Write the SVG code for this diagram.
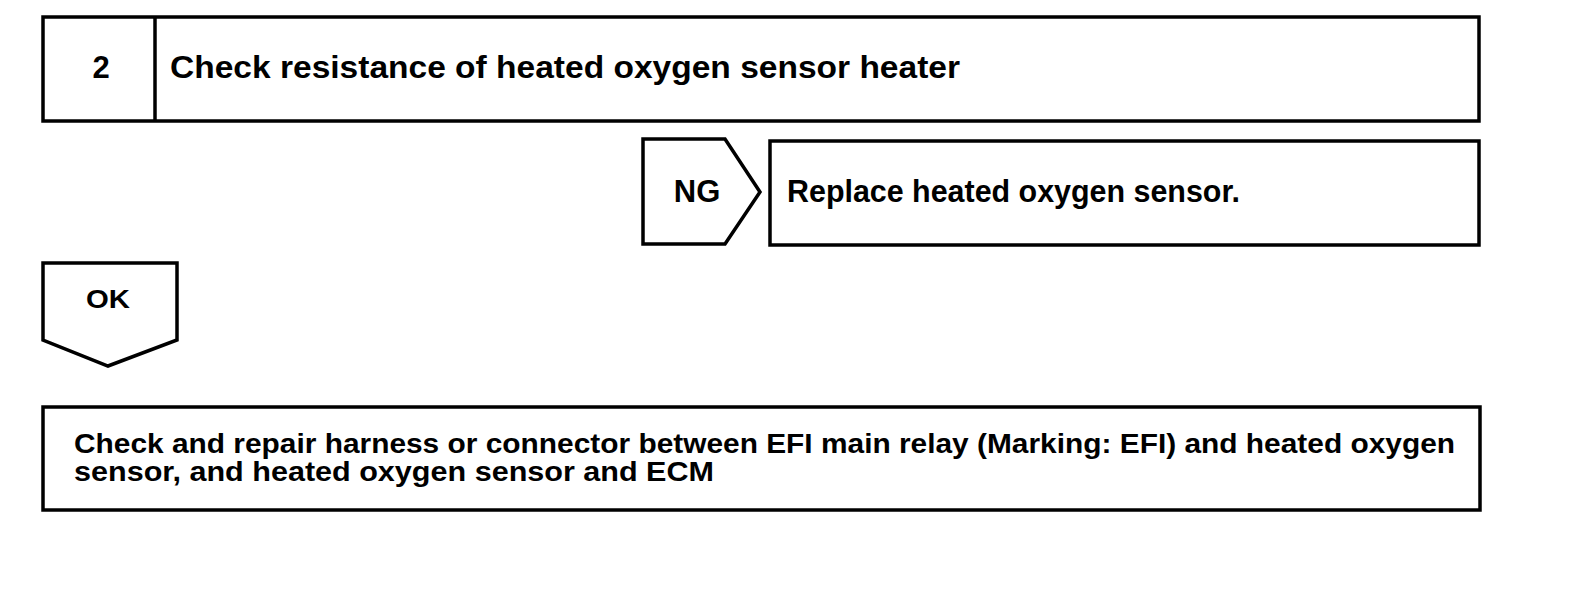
<svg xmlns="http://www.w3.org/2000/svg" width="1584" height="592" viewBox="0 0 1584 592">
<style>
.s{fill:#fff;stroke:#000;stroke-width:3.5;stroke-linejoin:miter}
.t{font-family:"Liberation Sans",Arial,sans-serif;font-weight:bold;fill:#000}
</style>
<rect width="1584" height="592" fill="#fff"/>
<g id="step2">
<rect class="s" x="43" y="17" width="1436" height="104"/>
<line class="s" x1="155" y1="17" x2="155" y2="121"/>
<text class="t" x="101" y="78" font-size="31" text-anchor="middle">2</text>
<text class="t" x="170" y="78" font-size="31" textLength="790" lengthAdjust="spacingAndGlyphs">Check resistance of heated oxygen sensor heater</text>
</g>
<g id="ng">
<polygon class="s" points="643,139 725,139 760,192 725,244 643,244"/>
<text class="t" x="697" y="202" font-size="31" text-anchor="middle">NG</text>
</g>
<g id="replace">
<rect class="s" x="770" y="141" width="709" height="104"/>
<text class="t" x="787" y="202" font-size="31" textLength="453" lengthAdjust="spacingAndGlyphs">Replace heated oxygen sensor.</text>
</g>
<g id="ok">
<polygon class="s" points="43,263 177,263 177,340 108,366 43,340"/>
<text class="t" x="86" y="308" font-size="26" textLength="44" lengthAdjust="spacingAndGlyphs">OK</text>
</g>
<g id="repair">
<rect class="s" x="43" y="407" width="1437" height="103"/>
<text class="t" x="74" y="453" font-size="28" textLength="1381" lengthAdjust="spacingAndGlyphs">Check and repair harness or connector between EFI main relay (Marking: EFI) and heated oxygen</text>
<text class="t" x="74" y="481" font-size="28" textLength="640" lengthAdjust="spacingAndGlyphs">sensor, and heated oxygen sensor and ECM</text>
</g>
<g id="connectors"></g>
</svg>
